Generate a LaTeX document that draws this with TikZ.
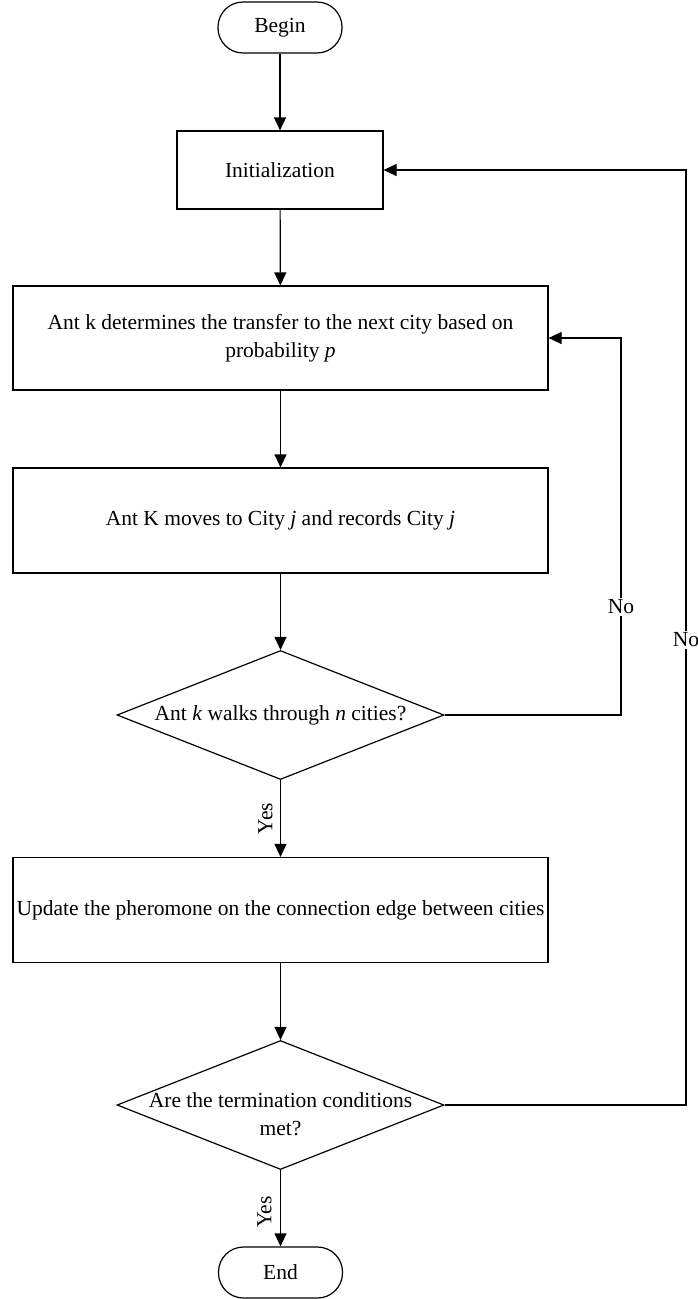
\documentclass[tikz,border=0pt]{standalone}
\usepackage{fontspec}
\setmainfont{Liberation Serif}
\usetikzlibrary{shapes.geometric,arrows.meta}
\begin{document}
\begin{tikzpicture}[x=1pt,y=-1pt, line width=1.2pt,
  txtfont/.style={font=\fontsize{21.5}{27.5}\selectfont},
  box/.style={draw, rectangle, inner sep=0pt, align=center, txtfont},
  term/.style={draw, rectangle, rounded corners=25pt, minimum width=124pt, minimum height=51pt, inner sep=0pt, txtfont},
  dec/.style={draw, diamond, minimum width=327pt, minimum height=129pt, inner sep=0pt},
  txt/.style={align=center, inner sep=0pt, txtfont},
  lbl/.style={fill=white, inner sep=1.5pt, txtfont},
  arr/.style={-{Triangle[length=13pt,width=12pt]}}
]
\useasboundingbox (0,0) rectangle (698,1299);

\node[term] (begin) at (280,27.5) {Begin};
\node[box, minimum width=206pt, minimum height=78pt] (init) at (280,170) {Initialization};
\node[box, minimum width=535pt, minimum height=104pt] (prob) at (280.5,338) {Ant k determines the transfer to the next city based on\\probability \textit{p}};
\node[box, minimum width=535pt, minimum height=105pt] (move) at (280.5,520.5) {Ant K moves to City \textit{j} and records City \textit{j}};
\node[dec] (d1) at (280.5,715) {};
\node[txt] (d1t) at (d1) {Ant \textit{k} walks through \textit{n} cities?};
\node[box, minimum width=535pt, minimum height=105pt] (upd) at (280.5,910) {Update the pheromone on the connection edge between cities};
\node[dec] (d2) at (280.5,1105) {};
\node[txt] (d2t) at (280.5,1114) {Are the termination conditions\\met?};
\node[term] (end) at (280.5,1272.5) {End};

\coordinate (innerx) at (621,0);
\coordinate (outerx) at (686,0);

\draw[arr] (begin) -- (init);
\draw[arr] (init) -- (prob);
\draw[arr] (prob) -- (move);
\draw[arr] (move) -- (d1);
\draw[arr] (d1) -- node[lbl, rotate=90, yshift=15pt, fill=none] (yes1) {Yes} (upd);
\draw[arr] (upd) -- (d2);
\draw[arr] (d2) -- node[lbl, rotate=90, yshift=16pt, xshift=-4pt, fill=none] (yes2) {Yes} (end);

\draw[arr] (d1.east) -- (d1.east -| innerx) -- (prob.east -| innerx) -- (prob.east);
\node[lbl] (no1) at (621,607) {No};
\draw[arr] (d2.east) -- (d2.east -| outerx) -- (init.east -| outerx) -- (init.east);
\node[lbl] (no2) at (686,640) {No};
\end{tikzpicture}
\end{document}
